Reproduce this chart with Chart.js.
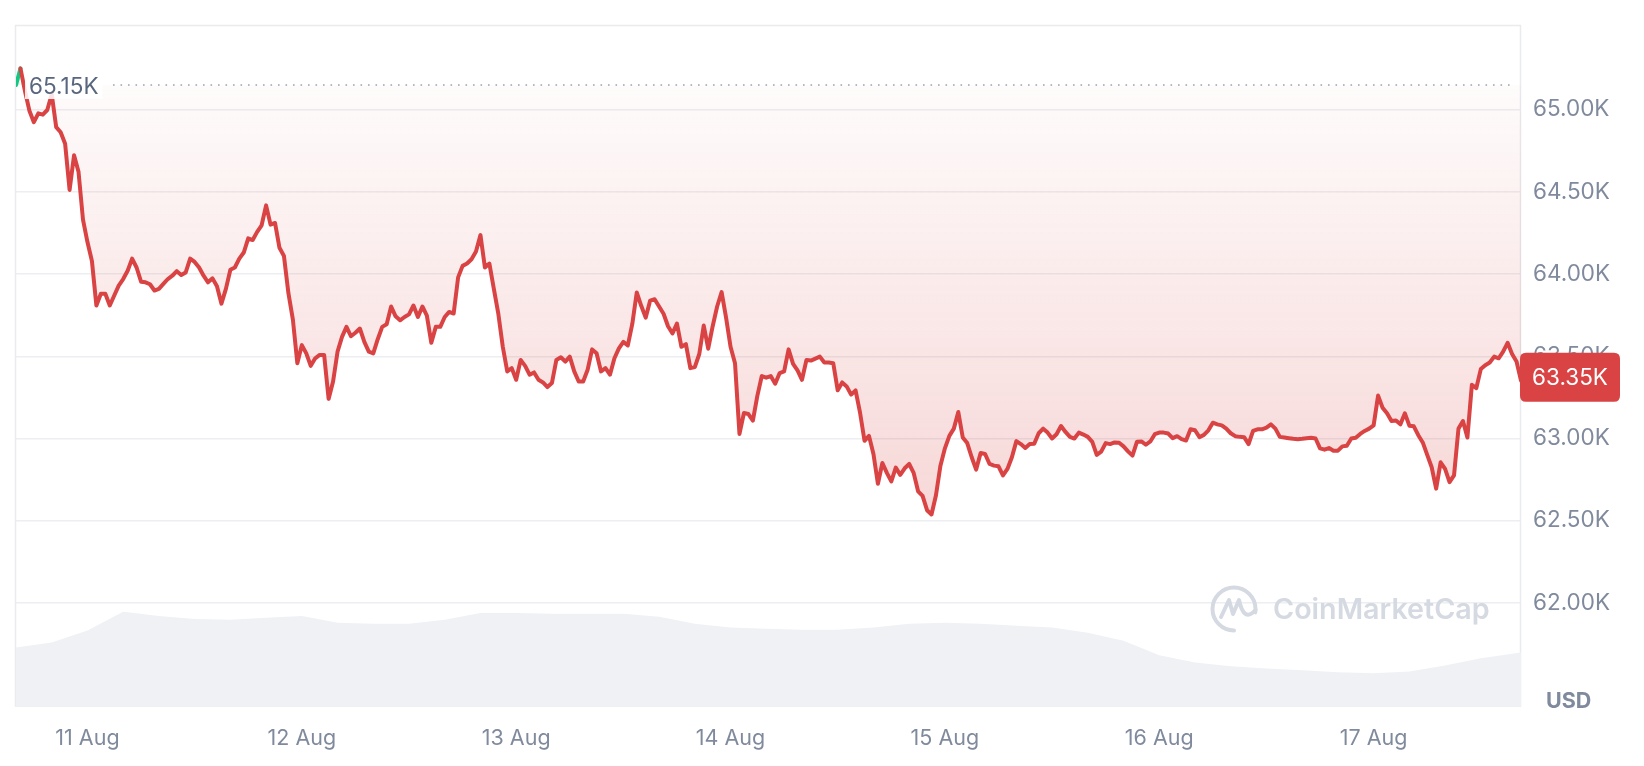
<!DOCTYPE html>
<html>
<head>
<meta charset="utf-8">
<script src="https://cdn.jsdelivr.net/npm/chart.js@4.4.1/dist/chart.umd.min.js"></script>
<style>
  html, body { margin: 0; padding: 0; background: #fff; }
  #wrap { width: 1644px; height: 766px; position: relative; }
</style>
</head>
<body>
<div id="wrap"><canvas id="chart"></canvas></div>
<script>
// BTC / USD, last 7 days, one sample every 30 min
// x is in hours counted from 11 Aug 00:00
const startHour = -8;
const stepHours = 0.5;

const prices = [
  65150, 65251, 65114, 64994, 64924, 64978, 64970, 64998, 65094, 64894,
  64863, 64793, 64512, 64723, 64622, 64331, 64195, 64080, 63809, 63880,
  63880, 63809, 63870, 63930, 63970, 64020, 64094, 64040, 63954, 63950,
  63938, 63900, 63910, 63940, 63970, 63990, 64018, 63994, 64010, 64094,
  64074, 64040, 63990, 63950, 63974, 63926, 63820, 63910, 64026, 64040,
  64094, 64131, 64217, 64207, 64257, 64297, 64418, 64301, 64311, 64160,
  64110, 63884, 63723, 63458, 63568, 63518, 63442, 63488, 63508, 63508,
  63241, 63347, 63528, 63618, 63679, 63622, 63643, 63669, 63588, 63528,
  63518, 63604, 63679, 63695, 63803, 63743, 63719, 63739, 63755, 63809,
  63739, 63803, 63747, 63582, 63679, 63679, 63739, 63770, 63760, 63980,
  64050, 64064, 64090, 64137, 64237, 64040, 64064, 63910, 63759, 63558,
  63408, 63428, 63357, 63478, 63442, 63388, 63402, 63357, 63341, 63313,
  63337, 63478, 63494, 63468, 63498, 63408, 63347, 63347, 63418, 63542,
  63518, 63408, 63428, 63388, 63488, 63548, 63588, 63566, 63697, 63888,
  63807, 63735, 63839, 63847, 63803, 63759, 63683, 63639, 63699, 63558,
  63574, 63428, 63434, 63514, 63687, 63546, 63683, 63803, 63890, 63735,
  63558, 63458, 63028, 63155, 63149, 63109, 63259, 63380, 63370, 63380,
  63333, 63398, 63408, 63542, 63454, 63414, 63357, 63478, 63474, 63486,
  63498, 63462, 63462, 63458, 63293, 63341, 63317, 63267, 63293, 63157,
  62986, 63016, 62906, 62725, 62851, 62791, 62739, 62823, 62779, 62819,
  62845, 62791, 62679, 62651, 62564, 62538, 62655, 62835, 62940, 63016,
  63060, 63161, 63006, 62972, 62886, 62811, 62912, 62906, 62845, 62835,
  62831, 62775, 62815, 62886, 62984, 62966, 62942, 62966, 62968, 63032,
  63060, 63036, 63000, 63026, 63076, 63040, 63010, 63000, 63036, 63024,
  63010, 62980, 62900, 62920, 62972, 62966, 62976, 62974, 62952, 62922,
  62896, 62980, 62982, 62962, 62982, 63026, 63036, 63036, 63030, 63002,
  63014, 62996, 62988, 63056, 63050, 63008, 63022, 63050, 63096, 63086,
  63080, 63060, 63032, 63014, 63010, 63008, 62966, 63046, 63056, 63056,
  63066, 63086, 63060, 63010, 63006, 63002, 62998, 62996, 62998, 63002,
  63004, 63000, 62940, 62932, 62942, 62926, 62926, 62952, 62956, 63000,
  63004, 63028, 63046, 63060, 63080, 63261, 63187, 63153, 63106, 63110,
  63086, 63153, 63078, 63074, 63020, 62976, 62900, 62825, 62695, 62855,
  62815, 62735, 62775, 63060, 63106, 63006, 63327, 63307, 63422, 63446,
  63462, 63498, 63488, 63528, 63582, 63514, 63468, 63352
];

// 24h volume (billions USD), drawn as the grey band at the bottom
const volHours = [
  -8, -4, 0, 4, 8, 12, 16, 20, 24, 28,
  32, 36, 40, 44, 48, 52, 56, 60, 64, 68,
  72, 76, 80, 84, 88, 92, 96, 100, 104, 108,
  112, 116, 120, 124, 128, 132, 136, 140, 144, 148,
  152, 156, 160.5
];
const volumes = [
  21.5, 23.3, 27.7, 34.6, 33.1, 32.0, 31.7, 32.4, 33.1, 30.6,
  30.2, 30.2, 31.7, 34.2, 34.2, 33.9, 33.9, 33.9, 32.8, 30.2,
  28.8, 28.4, 28.0, 28.0, 28.8, 30.2, 30.6, 30.2, 29.5, 28.8,
  26.9, 24.0, 18.6, 16.0, 14.6, 13.8, 13.1, 12.4, 12.0, 12.7,
  14.9, 17.5, 19.7
];

const tickHours = [0, 24, 48, 72, 96, 120, 144];
const tickLabels = ['11 Aug', '12 Aug', '13 Aug', '14 Aug', '15 Aug', '16 Aug', '17 Aug'];
const yTicks = [62000, 62500, 63000, 63500, 64000, 64500, 65000];

const RED = '#d94343';
const GREEN = '#16c784';
const GREY = '#808a9d';
const DARK = '#58667e';
const WM = '#d5d9e1';
const FONT = 'Inter, "Noto Sans", sans-serif';

const openPrice = prices[0];
const lastPrice = prices[prices.length - 1];
const fmtK = v => (v / 1000).toFixed(2) + 'K';

function roundRect(ctx, x, y, w, h, r) {
  ctx.beginPath();
  ctx.moveTo(x + r, y);
  ctx.lineTo(x + w - r, y);
  ctx.quadraticCurveTo(x + w, y, x + w, y + r);
  ctx.lineTo(x + w, y + h - r);
  ctx.quadraticCurveTo(x + w, y + h, x + w - r, y + h);
  ctx.lineTo(x + r, y + h);
  ctx.quadraticCurveTo(x, y + h, x, y + h - r);
  ctx.lineTo(x, y + r);
  ctx.quadraticCurveTo(x, y, x + r, y);
  ctx.closePath();
}

const decor = {
  id: 'decor',
  beforeDatasetsDraw(chart) {
    const {ctx, chartArea: a} = chart;
    ctx.save();
    // frame round the plot
    ctx.strokeStyle = '#e9ebef';
    ctx.lineWidth = 1.5;
    ctx.strokeRect(a.left - 0.5, a.top, a.right - a.left, a.bottom - a.top);

    // watermark
    const cx = a.right - 287, cy = a.bottom - 97;
    ctx.strokeStyle = WM;
    ctx.lineWidth = 4;
    ctx.lineCap = 'round';
    ctx.lineJoin = 'round';
    ctx.beginPath();
    ctx.arc(cx, cy, 21.5, 0.5 * Math.PI, 2.05 * Math.PI);
    ctx.stroke();
    ctx.beginPath();
    ctx.moveTo(cx - 13, cy + 8);
    ctx.lineTo(cx - 5, cy - 9);
    ctx.lineTo(cx - 1, cy + 5);
    ctx.lineTo(cx + 5, cy - 9);
    ctx.quadraticCurveTo(cx + 10, cy + 14, cx + 21.5, cy + 1);
    ctx.stroke();
    ctx.fillStyle = WM;
    ctx.font = '600 28.7px ' + FONT;
    ctx.textAlign = 'left';
    ctx.textBaseline = 'alphabetic';
    ctx.fillText('CoinMarketCap', a.right - 248, a.bottom - 87);
    ctx.restore();
  },
  afterDatasetsDraw(chart) {
    const {ctx, chartArea: a, scales} = chart;
    const y0 = scales.y.getPixelForValue(openPrice);
    ctx.save();
    // dotted line at the opening price
    ctx.strokeStyle = '#9aa3b3';
    ctx.lineWidth = 1.6;
    ctx.setLineDash([1.6, 5.9]);
    ctx.beginPath();
    ctx.moveTo(a.left + 97, y0);
    ctx.lineTo(a.right - 6, y0);
    ctx.stroke();
    ctx.setLineDash([]);
    // its label
    ctx.font = '22.5px ' + FONT;
    const label = fmtK(openPrice);
    const w = ctx.measureText(label).width;
    ctx.fillStyle = 'rgba(255,255,255,0.85)';
    ctx.fillRect(a.left + 9, y0 - 12, w + 8, 26);
    ctx.fillStyle = DARK;
    ctx.textAlign = 'left';
    ctx.textBaseline = 'middle';
    ctx.fillText(label, a.left + 13, y0 + 2);
    ctx.restore();
  },
  afterDraw(chart) {
    const {ctx, chartArea: a, scales} = chart;
    const yl = scales.y.getPixelForValue(lastPrice) - 3;
    ctx.save();
    // last price tag
    ctx.fillStyle = RED;
    roundRect(ctx, a.right - 1, yl - 25, 100, 49, 6);
    ctx.fill();
    ctx.fillStyle = '#fff';
    ctx.font = '22.5px ' + FONT;
    ctx.textAlign = 'center';
    ctx.textBaseline = 'middle';
    ctx.fillText(fmtK(lastPrice), a.right + 49, yl + 1);
    // currency
    ctx.fillStyle = GREY;
    ctx.font = 'bold 21.5px ' + FONT;
    ctx.textAlign = 'left';
    ctx.fillText('USD', a.right + 25, a.bottom - 4);
    ctx.restore();
  }
};

new Chart(document.getElementById('chart'), {
  type: 'line',
  data: {
    datasets: [
      {
        label: 'Price',
        data: prices.map((p, i) => ({x: startHour + i * stepHours, y: p})),
        borderColor: RED,
        borderWidth: 4,
        borderJoinStyle: 'round',
        borderCapStyle: 'round',
        pointRadius: 0,
        tension: 0,
        fill: {target: {value: openPrice}, above: 'rgba(22,199,132,0.12)'},
        backgroundColor: ctx => {
          const chart = ctx.chart;
          if (!chart.chartArea) return 'rgba(0,0,0,0)';
          const y = chart.scales.y;
          const g = chart.ctx.createLinearGradient(0, y.getPixelForValue(openPrice), 0, y.getPixelForValue(62500));
          g.addColorStop(0, 'rgba(217,67,67,0.02)');
          g.addColorStop(1, 'rgba(217,67,67,0.21)');
          return g;
        },
        segment: {
          borderColor: c => (c.p0.parsed.y >= openPrice && c.p1.parsed.y >= openPrice) ? GREEN : undefined
        },
        order: 1
      },
      {
        label: 'Volume',
        data: volHours.map((h, i) => ({x: h, y: volumes[i]})),
        yAxisID: 'yVol',
        borderColor: 'rgba(0,0,0,0)',
        borderWidth: 0,
        pointRadius: 0,
        tension: 0,
        fill: 'origin',
        backgroundColor: '#eff1f4',
        order: 2
      }
    ]
  },
  options: {
    responsive: true,
    maintainAspectRatio: false,
    devicePixelRatio: 1,
    animation: false,
    layout: {padding: {left: 16, top: 19, right: 0, bottom: 0}},
    plugins: {legend: {display: false}, tooltip: {enabled: false}},
    scales: {
      x: {
        type: 'linear',
        min: startHour,
        max: startHour + stepHours * (prices.length - 1),
        afterBuildTicks: s => { s.ticks = tickHours.map(v => ({value: v})); },
        afterFit: s => { s.height = 60; },
        grid: {display: false},
        border: {display: false},
        ticks: {
          autoSkip: false,
          maxRotation: 0,
          padding: 12,
          color: GREY,
          font: {family: FONT, size: 21.5},
          callback: (v, i) => tickLabels[i]
        }
      },
      y: {
        position: 'right',
        min: 61373,
        max: 65512,
        afterBuildTicks: s => { s.ticks = yTicks.map(v => ({value: v})); },
        afterFit: s => { s.width = 123; },
        grid: {color: '#eceef1', lineWidth: 1.5, drawTicks: false},
        border: {display: false},
        ticks: {
          padding: 12,
          color: GREY,
          font: {family: FONT, size: 22.5},
          callback: v => fmtK(v)
        }
      },
      yVol: {display: false, min: 0, max: 250}
    }
  },
  plugins: [decor]
});
</script>
</body>
</html>
